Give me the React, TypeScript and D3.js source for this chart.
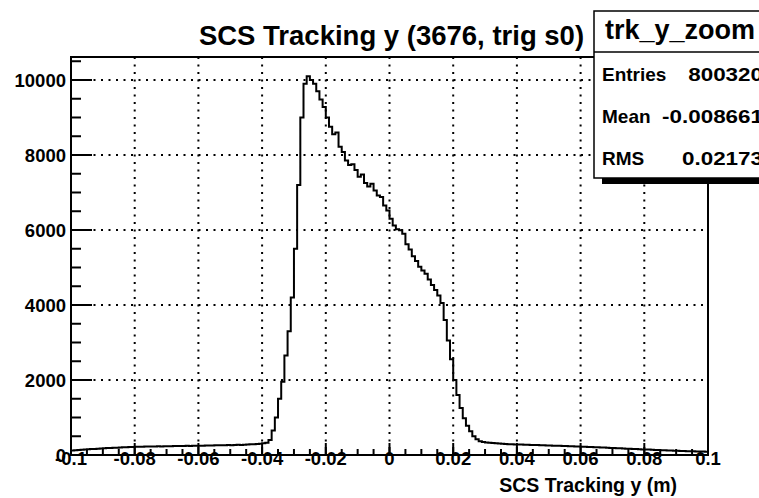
import React from "react";
import * as d3 from "d3";

// histogram: 200 bins from -0.1 to 0.1
const binLow = -0.1;
const binWidth = 0.001;
const counts = [
  118, 125, 132, 140, 146, 152, 158, 163, 170, 174, 178, 185, 188, 192, 196, 200, 205, 207, 212, 216,
  220, 222, 218, 225, 228, 224, 230, 232, 229, 235, 236, 233, 238, 240, 237, 242, 244, 241, 246, 248,
  250, 247, 252, 255, 253, 258, 260, 257, 262, 265, 263, 268, 272, 270, 276, 280, 284, 290, 296, 302,
  315, 330, 400, 650, 1000, 1500, 1950, 2650, 3300, 4200, 5500, 7200, 9000, 9900, 10100, 10000, 9900, 9700, 9480, 9280,
  9000, 8750, 8550, 8600, 8220, 8080, 7850, 7730, 7750, 7600, 7420, 7480, 7250, 7160, 7230, 7050, 6920, 6880, 6650, 6520,
  6300, 6120, 6020, 5990, 5900, 5620, 5480, 5300, 5170, 5020, 4920, 4830, 4680, 4530, 4400, 4250, 4050, 3600, 3050, 2550,
  2000, 1600, 1250, 980, 780, 630, 500, 420, 370, 345, 335, 330, 320, 312, 305, 298, 294, 290, 286, 283,
  280, 277, 275, 272, 270, 266, 264, 260, 258, 255, 252, 250, 247, 244, 242, 238, 235, 232, 228, 225,
  222, 218, 215, 212, 208, 205, 202, 198, 195, 190, 186, 182, 178, 174, 170, 166, 162, 158, 154, 150,
  148, 144, 140, 136, 132, 128, 124, 120, 117, 114, 111, 108, 105, 103, 100, 98, 96, 94, 92, 90
];

const xTicks = [-0.1, -0.08, -0.06, -0.04, -0.02, 0, 0.02, 0.04, 0.06, 0.08, 0.1];
const xTickLabels = ["-0.1", "-0.08", "-0.06", "-0.04", "-0.02", "0", "0.02", "0.04", "0.06", "0.08", "0.1"];
const yTicks = [0, 2000, 4000, 6000, 8000, 10000];
const yTickLabels = ["0", "2000", "4000", "6000", "8000", "10000"];

const statsName = "trk_y_zoom";
const statsLabels = ["Entries", "Mean", "RMS"];
const statsValues = ["800320", "-0.008661", "0.02173"];

const title = "SCS Tracking y (3676, trig s0)";
const xTitle = "SCS Tracking y (m)";

const W = 759;
const H = 498;
const font = "'Liberation Sans', Arial, Helvetica, sans-serif";

export default function App() {
  const frame = { left: 71, right: 708, top: 57, bottom: 455 };
  const x = d3.scaleLinear().domain([-0.1, 0.1]).range([frame.left, frame.right]);
  const y = d3.scaleLinear().domain([0, 10613]).range([frame.bottom, frame.top]);

  const pts: [number, number][] = counts.map((c, i) => [binLow + i * binWidth, c]);
  pts.push([binLow + counts.length * binWidth, counts[counts.length - 1]]);
  const line = d3
    .line<[number, number]>()
    .x(d => x(d[0]))
    .y(d => y(d[1]))
    .curve(d3.curveStepAfter);

  const xMinor = x.ticks(40);
  const yMinor = y.ticks(20);

  const box = { left: 594, top: 11, right: 768, bottom: 178, head: 52 };
  const valRight = 763;
  const valScale = 1.18;

  return (
    <svg
      width={W}
      height={H}
      style={{ position: "absolute", left: 0, top: 0, background: "#fff" }}
      fontFamily={font}
      fontWeight="bold"
    >
      <rect width={W} height={H} fill="#fff" />

      {/* grid */}
      <g stroke="#000" strokeWidth={2} strokeDasharray="2 5.5">
        {xTicks.slice(1, -1).map(t => (
          <line key={"gx" + t} x1={x(t)} x2={x(t)} y1={frame.top} y2={frame.bottom} />
        ))}
        {yTicks.slice(1).map(t => (
          <line key={"gy" + t} x1={frame.left} x2={frame.right} y1={y(t)} y2={y(t)} />
        ))}
      </g>

      {/* histogram */}
      <path d={line(pts) || ""} fill="none" stroke="#000" strokeWidth={2} />

      {/* frame */}
      <rect
        x={frame.left}
        y={frame.top}
        width={frame.right - frame.left}
        height={frame.bottom - frame.top}
        fill="none"
        stroke="#000"
        strokeWidth={2}
      />

      {/* axis ticks */}
      <g stroke="#000" strokeWidth={2}>
        {xMinor.map(t => (
          <line key={"xm" + t} x1={x(t)} x2={x(t)} y1={frame.bottom} y2={frame.bottom - 6} />
        ))}
        {xTicks.map(t => (
          <line key={"xM" + t} x1={x(t)} x2={x(t)} y1={frame.bottom} y2={frame.bottom - 12} />
        ))}
        {yMinor.map(t => (
          <line key={"ym" + t} x1={frame.left} x2={frame.left + 10} y1={y(t)} y2={y(t)} />
        ))}
        {yTicks.map(t => (
          <line key={"yM" + t} x1={frame.left} x2={frame.left + 21} y1={y(t)} y2={y(t)} />
        ))}
      </g>

      {/* tick labels */}
      <g fontSize={18.5} fill="#000">
        {xTicks.map((t, i) => (
          <text key={"xl" + t} x={x(t)} y={465} textAnchor="middle">
            {xTickLabels[i]}
          </text>
        ))}
        {yTicks.map((t, i) => (
          <text key={"yl" + t} x={66} y={y(t) + 7} textAnchor="end">
            {yTickLabels[i]}
          </text>
        ))}
      </g>

      <text x={frame.right - 31} y={492} textAnchor="end" fontSize={19.5}>
        {xTitle}
      </text>

      <text x={(frame.left + frame.right) / 2 + 2} y={45} textAnchor="middle" fontSize={27.5}>
        {title}
      </text>

      {/* stats box */}
      <rect x={box.left + 8} y={box.bottom} width={box.right - box.left} height={6} fill="#000" />
      <rect
        x={box.left}
        y={box.top}
        width={box.right - box.left}
        height={box.bottom - box.top}
        fill="#fff"
        stroke="#000"
        strokeWidth={1.5}
      />
      <line x1={box.left} x2={box.right} y1={box.head} y2={box.head} stroke="#000" strokeWidth={1.5} />
      <text x={680} y={39} textAnchor="middle" fontSize={27}>
        {statsName}
      </text>
      <g fontSize={19}>
        {statsLabels.map((s, i) => (
          <g key={s}>
            <text x={602} y={81 + i * 42}>
              {s}
            </text>
            <text
              transform={`translate(${valRight},${81 + i * 42}) scale(${valScale},1)`}
              textAnchor="end"
            >
              {statsValues[i]}
            </text>
          </g>
        ))}
      </g>
    </svg>
  );
}
